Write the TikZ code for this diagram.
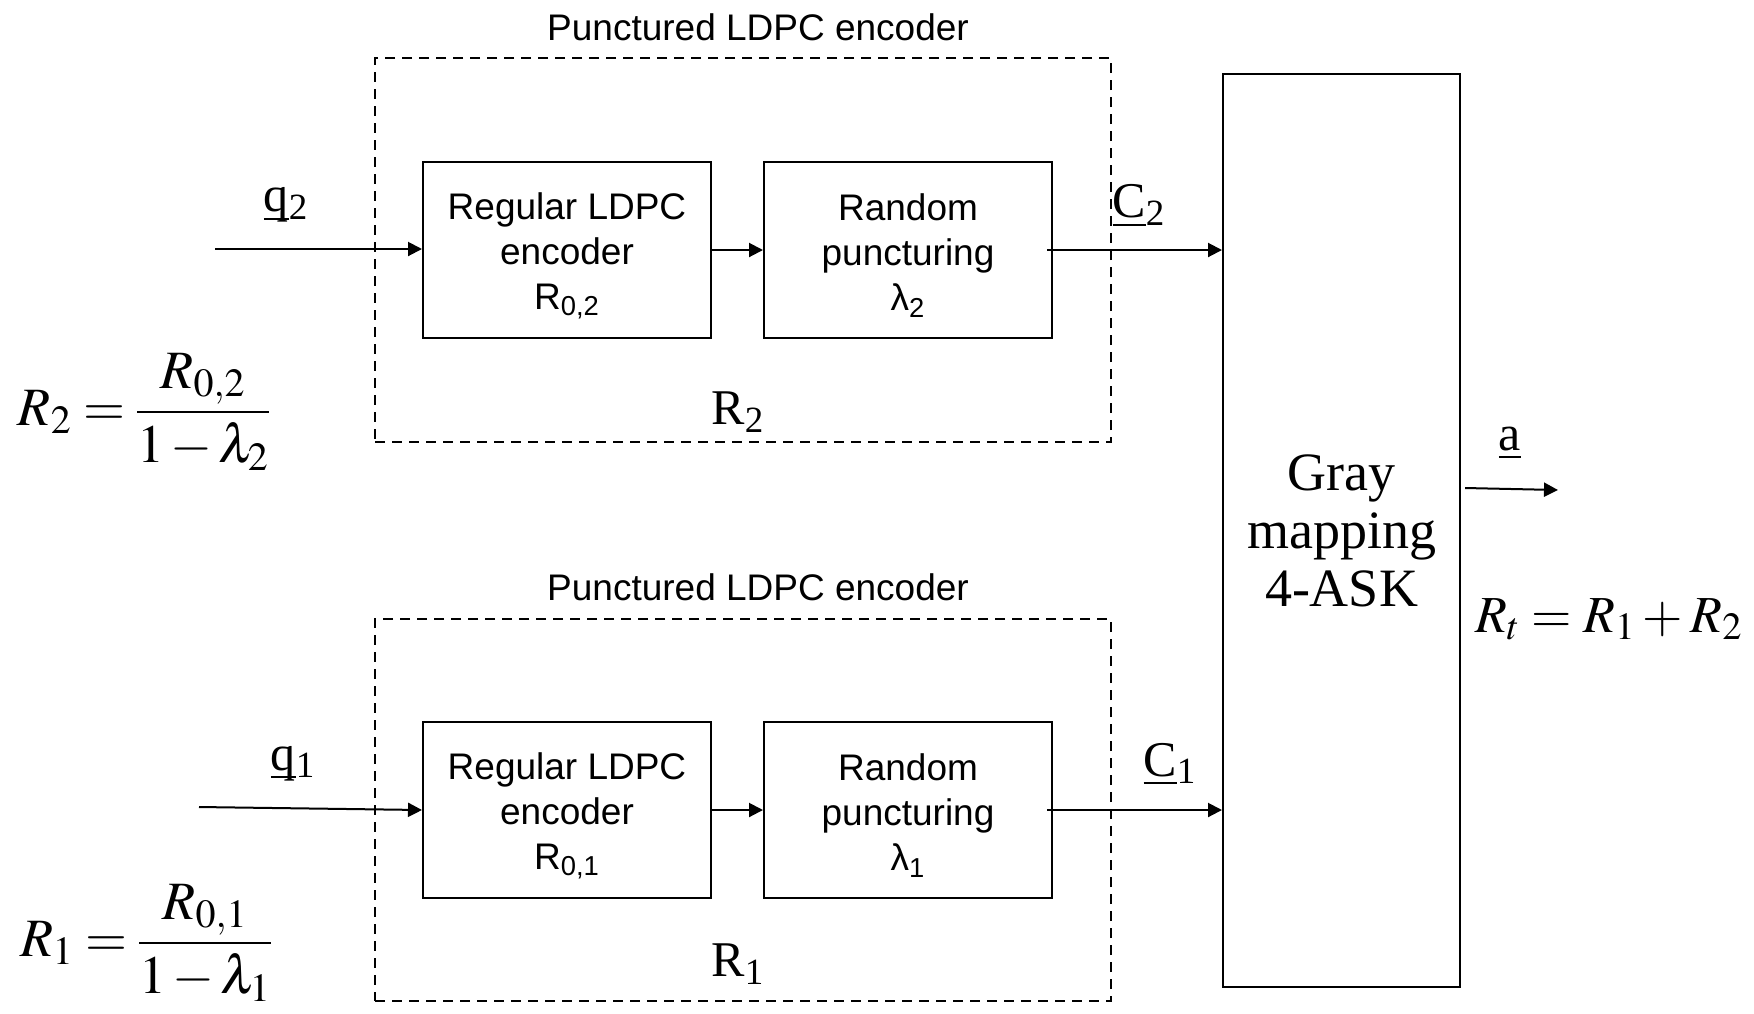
\documentclass[tikz,border=0pt]{standalone}
\usepackage{mathptmx}
\usepackage[no-math]{fontspec}
\setmainfont{Liberation Serif}
\newfontfamily\blocksans{Liberation Sans}
\usetikzlibrary{arrows.meta}

\newcommand{\ul}[1]{\underline{\smash{#1}}}

\begin{document}
\begin{tikzpicture}[x=0.5pt,y=-0.5pt,line width=1pt,
  arr/.style={-{Triangle[length=7pt,width=7pt]}},
  blocktext/.style={align=center, inner sep=0pt,
    font=\blocksans\fontsize{18.5}{22.5}\selectfont},
  block/.style={draw, minimum width=144pt, minimum height=88pt, inner sep=0pt,
    label={[blocktext, yshift=-2.8pt]center:#1}},
  groupbox/.style={draw, dash pattern=on 5pt off 3.5pt, minimum width=368pt,
    inner sep=0pt},
  grouptitle/.style={font=\blocksans\fontsize{18.5}{22.5}\selectfont},
  siglabel/.style={font=\fontsize{25}{30}\selectfont, inner sep=0pt},
  rate/.style={font=\fontsize{27}{32}\selectfont, inner sep=0pt},
  mapper/.style={draw, minimum width=118.5pt, minimum height=456.5pt,
    inner sep=0pt, align=center, font=\fontsize{27}{29}\selectfont}]

\useasboundingbox (0,0) rectangle (1754,1013);

% upper branch: punctured LDPC encoder for level 2
\node[groupbox, minimum height=192pt] (g2) at (743,250) {};
\node[grouptitle] (t2) at (758,27) {Punctured LDPC encoder};
\node[block={Regular LDPC\\encoder\\R\textsubscript{0,2}}] (enc2) at (567,250) {};
\node[block={Random\\puncturing\\λ\textsubscript{2}}] (punc2) at (908,250) {};
\node[siglabel] (r2) at (738,412) {R\textsubscript{2}};

% lower branch: punctured LDPC encoder for level 1
\node[groupbox, minimum height=191pt] (g1) at (743,810) {};
\node[grouptitle] (t1) at (758,587) {Punctured LDPC encoder};
\node[block={Regular LDPC\\encoder\\R\textsubscript{0,1}}] (enc1) at (567,810) {};
\node[block={Random\\puncturing\\λ\textsubscript{1}}] (punc1) at (908,810) {};
\node[siglabel] (r1) at (738,964) {R\textsubscript{1}};

% 4-ASK mapper
\node[mapper] (map) at (1341.5,530.5) {Gray\\mapping\\4-ASK};

% inputs and outputs
\coordinate (in2) at (215,249);
\coordinate (in1) at (199,807);
\coordinate (out) at (1558,490);

\draw[arr] (in2) -- (enc2.west |- in2);
\draw[arr] (enc2.east) -- (punc2.west);
\draw[arr] ([xshift=-3pt]punc2.east) -- (punc2.east -| map.west);
\draw[arr] (in1) -- (enc1.west);
\draw[arr] (enc1.east) -- (punc1.west);
\draw[arr] ([xshift=-3pt]punc1.east) -- (punc1.east -| map.west);
\draw[arr] ([xshift=2pt]map.east |- 0,488) -- (out);

% signal labels
\node[siglabel] (lq2) at (286,208) {\ul{q}\textsubscript{2}};
\node[siglabel] (lq1) at (293,767) {\ul{q}\textsubscript{1}};
\node[siglabel] (lc2) at (1139,214) {\ul{C}\textsubscript{2}};
\node[siglabel] (lc1) at (1170,773) {\ul{C}\textsubscript{1}};
\node[siglabel] (la) at (1510,455) {\ul{a}};

% rate relations
\node[rate, anchor=west] (f2) at (17,412)
  {$\displaystyle R_2\mkern4mu{=}\mkern3mu\frac{R_{0,2}}{1\mkern2mu{-}\mkern2mu\lambda_2}$};
\node[rate, anchor=west] (f1) at (19,943)
  {$\displaystyle R_1\mkern4mu{=}\mkern3mu\frac{R_{0,1}}{1\mkern2mu{-}\mkern2mu\lambda_1}$};
\node[rate, font=\fontsize{26}{31}\selectfont, anchor=base west] (ft) at (1474,632)
  {$R_t=R_1+R_2$};

\end{tikzpicture}
\end{document}
